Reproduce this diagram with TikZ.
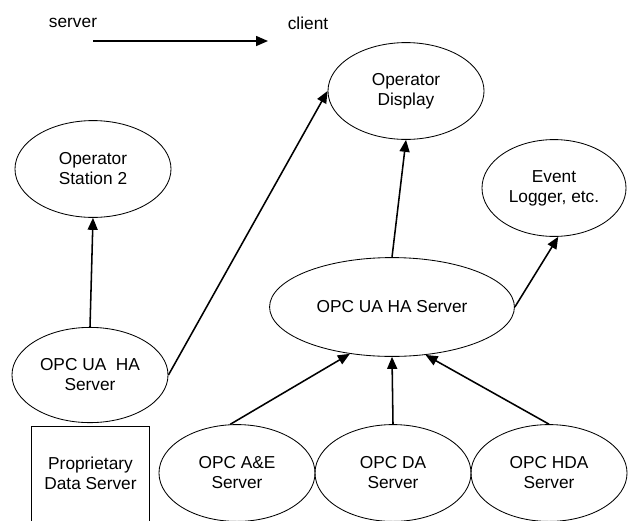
\documentclass[tikz,border=0pt]{standalone}
\usepackage{fontspec}
\setmainfont{Liberation Sans}
\usetikzlibrary{shapes.geometric,arrows.meta}
\begin{document}
\begin{tikzpicture}[x=0.025cm,y=-0.025cm,
  font=\fontsize{12.3}{14.2}\selectfont,
  oval/.style={draw,ellipse,line width=0.6pt,inner sep=0pt,align=center,
    minimum width=3.9cm,minimum height=2.42cm},
  wide/.style={oval,minimum width=6.12cm,minimum height=2.47cm},
  conn/.style={line width=1.1pt,-{Triangle[length=0.3cm,width=0.25cm]}}]
\useasboundingbox (0,0) rectangle (628,520);

% legend
\node (srv) at (73,23) {server};
\node (cli) at (308,23) {client};
\coordinate (lstart) at (93,41);
\coordinate (lend) at (268,41);
\draw[conn] (lstart)--(lend);

% clients
\node[oval] (disp) at (406,91) {Operator\\Display};
\node[oval,minimum width=3.6cm] (logger) at (554,188) {Event\\Logger, etc.};
\node[oval] (os2) at (93,169) {Operator\\Station 2};

% ha servers
\node[oval,minimum height=2.38cm] (uaL) at (90,375) {OPC UA~~HA\\Server};
\node[wide] (uaM) at (392,307) {OPC UA HA Server};

% data sources
\node[draw,line width=0.6pt,minimum width=2.93cm,minimum height=2.7cm,anchor=north] (prop) at (90.5,426) {};
\node[align=center] (proptext) at (90.5,473) {Proprietary\\Data Server};
\node[oval] (ae) at (237,473) {OPC A\&E\\Server};
\node[oval] (da) at (393,473) {OPC DA\\Server};
\node[oval] (hda) at (549,473) {OPC HDA\\Server};

\draw[conn] (uaL.north)--(os2.south);
\draw[conn] (uaL.east)--(disp.west);
\draw[conn] (uaM.north)--(disp.south);
\draw[conn] (uaM.east)--(logger.-85);
\draw[conn] (ae.98)--(uaM.228);
\draw[conn] (da.north)--(uaM.south);
\draw[conn] (hda.north)--(uaM.305);
\end{tikzpicture}
\end{document}
